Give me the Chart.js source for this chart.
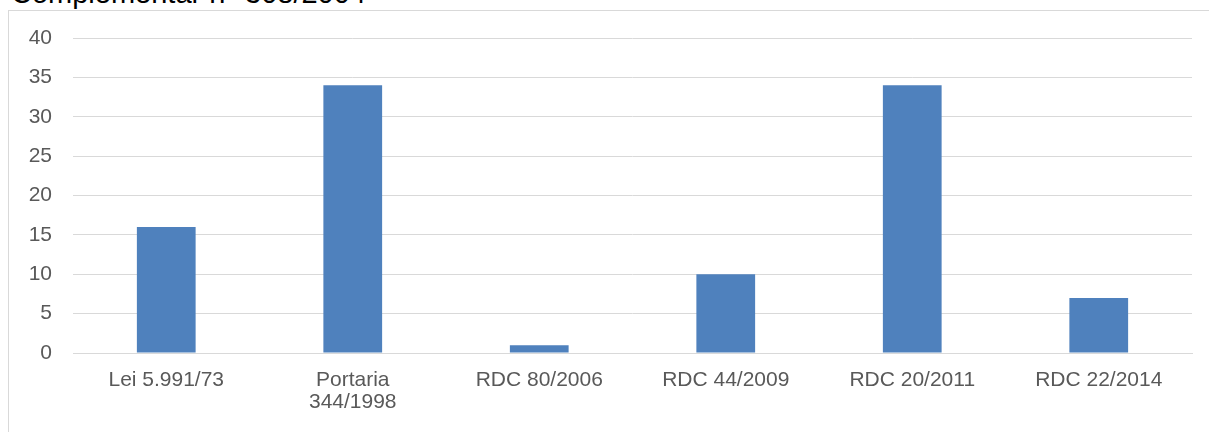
<!DOCTYPE html>
<html>
<head>
<meta charset="utf-8">
<script src="https://cdn.jsdelivr.net/npm/chart.js@4/dist/chart.umd.min.js"></script>
<style>
  html, body { margin: 0; padding: 0; background: #fff; overflow: hidden; }
  #wrap { position: relative; width: 1209px; height: 432px; overflow: hidden; }
  #frame { position: absolute; left: 8px; top: 10px; width: 1210px; height: 440px;
           border: 1px solid #d9d9d9; box-sizing: border-box; }
  #caption { position: absolute; left: 11px; top: -21px; margin: 0;
             font-family: "Liberation Sans", Arial, sans-serif; font-size: 29px;
             line-height: 29px; color: #000; white-space: nowrap; }
  canvas { position: absolute; left: 0; top: 0; }
</style>
</head>
<body>
<div id="wrap">
  <p id="caption">Complementar n° 308/2004</p>
  <div id="frame"></div>
  <canvas id="c" width="1209" height="432"></canvas>
</div>
<script>
// Normas e quantidade de itens por norma
const categories = ['Lei 5.991/73', ['Portaria', '344/1998'], 'RDC 80/2006', 'RDC 44/2009', 'RDC 20/2011', 'RDC 22/2014'];
const values = [16, 34, 1, 10, 34, 7];
const yTicks = [0, 5, 10, 15, 20, 25, 30, 35, 40];

const labelFont = { family: '"Liberation Sans", Arial, sans-serif', size: 21, lineHeight: 1.05 };

new Chart(document.getElementById('c'), {
  type: 'bar',
  data: {
    labels: categories,
    datasets: [{
      data: values,
      backgroundColor: '#4f81bd',
      borderWidth: 0,
      categoryPercentage: 1,
      barPercentage: 0.315
    }]
  },
  options: {
    responsive: false,
    animation: false,
    layout: { padding: { left: 0, right: 17, top: 38, bottom: 0 } },
    plugins: { legend: { display: false }, tooltip: { enabled: false } },
    scales: {
      x: {
        grid: { display: false, drawTicks: false },
        border: { display: true, color: '#d9d9d9', width: 1 },
        ticks: { color: '#595959', font: labelFont, padding: 16, maxRotation: 0, autoSkip: false },
        afterFit: (s) => { s.height = 79; }
      },
      y: {
        min: 0, max: 40,
        afterBuildTicks: (s) => { s.ticks = yTicks.map(v => ({ value: v })); },
        grid: { color: '#d9d9d9', drawTicks: false, lineWidth: 1 },
        border: { display: false },
        ticks: { color: '#595959', font: labelFont, padding: 21 },
        afterFit: (s) => { s.width = 73; }
      }
    }
  }
});
</script>
</body>
</html>
